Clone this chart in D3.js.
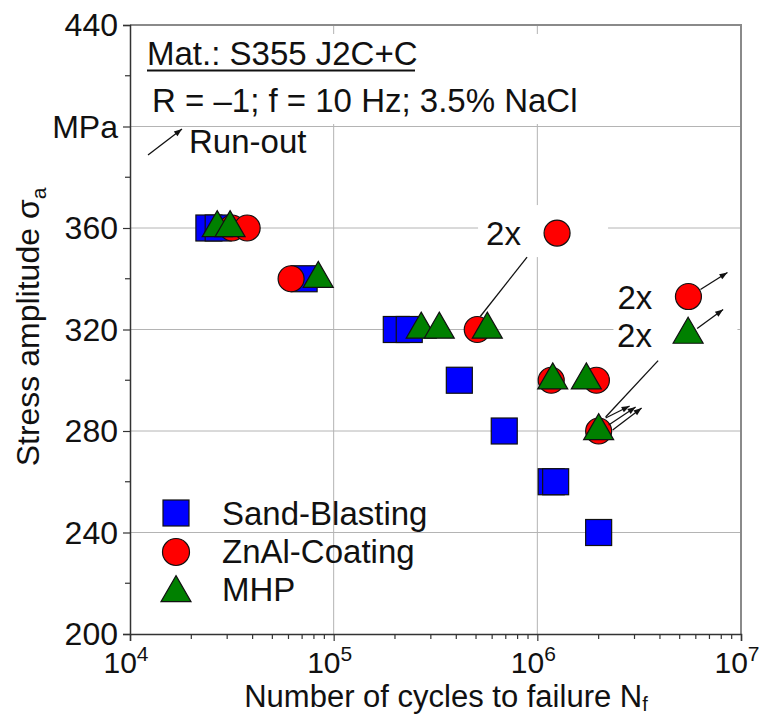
<!DOCTYPE html>
<html><head><meta charset="utf-8">
<script src="https://cdn.jsdelivr.net/npm/d3@7/dist/d3.min.js"></script>
<style>body{margin:0;background:#fff}svg{display:block;font-family:"Liberation Sans",Arial,sans-serif}</style>
</head><body><svg id="c" width="766" height="716"></svg>
<script>
// ---- data ----
const sandN = [2.44e4, 2.71e4, 7.16e4, 2.03e5, 2.35e5, 4.14e5, 6.88e5, 1.17e6, 1.23e6, 2.0e6];
const sandS = [360, 360, 340, 320, 320, 300, 280, 260, 260, 240];
const znalN = [3.17e4, 3.76e4, 6.18e4, 5.07e5, 1.25e6, 1.17e6, 1.95e6, 2.0e6, 5.52e6];
const znalS = [360, 360, 340, 320, 358, 300, 300, 280, 333];
const mhpN = [2.68e4, 3.10e4, 8.4e4, 2.69e5, 3.30e5, 5.68e5, 1.19e6, 1.74e6, 2.0e6, 5.5e6];
const mhpS = [360, 360, 340, 320, 320, 320, 300, 300, 280, 318];
const yTicks = [200, 240, 280, 320, 360, 400, 440];
const yTickLabels = ["200", "240", "280", "320", "360", "MPa", "440"];
const xDecades = [1e4, 1e5, 1e6, 1e7];
const seriesNames = ["Sand-Blasting", "ZnAl-Coating", "MHP"];
// run-out arrows: anchor point (N,S)
const runOuts = [
  {n: 2.0e6, s: 280}, {n: 2.0e6, s: 280}, {n: 2.0e6, s: 280},
  {n: 5.52e6, s: 333}, {n: 5.5e6, s: 318}
];
// "2x" labels attached to points
const twoX = [{n: 1.25e6, s: 358}, {n: 5.52e6, s: 333}, {n: 5.5e6, s: 318}];

const svg = d3.select("#c");
const x = d3.scaleLog().domain([1e4, 1e7]).range([130, 741]);
const y = d3.scaleLinear().domain([200, 440]).range([634, 25]);

// grid
const g = svg.append("g");
g.selectAll(".gx").data([1e5, 1e6]).join("line")
  .attr("x1", d => x(d)).attr("x2", d => x(d)).attr("y1", y(440)).attr("y2", y(200))
  .attr("stroke", "#b4b4b4").attr("stroke-width", 1);
g.selectAll(".gy").data([240, 280, 320, 360, 400]).join("line")
  .attr("x1", x(1e4)).attr("x2", x(1e7)).attr("y1", d => y(d)).attr("y2", d => y(d))
  .attr("stroke", "#b4b4b4").attr("stroke-width", 1);
// top/right border
svg.append("path").attr("d", `M${x(1e4)},${y(440)}H${x(1e7)}V${y(200)}`)
  .attr("fill", "none").attr("stroke", "#8a8a8a").attr("stroke-width", 2);

// white boxes behind annotation texts
const wb = svg.append("g").attr("fill", "#fff");
wb.append("rect").attr("x", 140).attr("y", 34).attr("width", 440).attr("height", 90);
wb.append("rect").attr("x", x(twoX[0].n) - 79).attr("y", y(twoX[0].s) - 28).attr("width", 130).attr("height", 52);
wb.append("rect").attr("x", x(twoX[1].n) - 75).attr("y", y(twoX[1].s) - 32).attr("width", 124).attr("height", 85);

// axes
const xAxis = d3.axisBottom(x).tickValues(xDecades).tickSize(7).tickFormat("");
const xMinor = [];
[1e4, 1e5, 1e6].forEach(d => { for (let k = 2; k <= 9; k++) xMinor.push(d * k); });
const ax = svg.append("g").attr("transform", `translate(0,${y(200)})`).call(xAxis);
ax.append("g").selectAll("line").data(xMinor).join("line")
  .attr("x1", d => x(d)).attr("x2", d => x(d)).attr("y1", 0).attr("y2", 5);
ax.selectAll("line").attr("stroke", "#333").attr("stroke-width", 1.2);
ax.select(".domain").attr("stroke", "#333").attr("stroke-width", 1.5);
const yAxis = d3.axisLeft(y).tickValues(yTicks).tickSize(7).tickFormat("");
const ay = svg.append("g").attr("transform", `translate(${x(1e4)},0)`).call(yAxis);
ay.append("g").selectAll("line").data([220, 260, 300, 340, 380, 420]).join("line")
  .attr("x1", -5).attr("x2", 0).attr("y1", d => y(d)).attr("y2", d => y(d));
ay.selectAll("line").attr("stroke", "#333").attr("stroke-width", 1.2);
ay.select(".domain").attr("stroke", "#333").attr("stroke-width", 1.5);

// tick labels
svg.append("g").selectAll("text").data(yTicks).join("text")
  .attr("x", 118).attr("y", d => y(d) + 11).attr("text-anchor", "end")
  .attr("font-size", 32).attr("fill", "#111").text((d, i) => yTickLabels[i]);
const xl = svg.append("g").selectAll("text").data(xDecades).join("text")
  .attr("x", d => x(d) - 4).attr("y", 673).attr("text-anchor", "middle")
  .attr("font-size", 30).attr("fill", "#111");
xl.append("tspan").text("10");
xl.append("tspan").attr("dy", -12).attr("font-size", 21).text(d => Math.round(Math.log10(d)));

// axis titles
const yt = svg.append("text").attr("transform", `translate(39,327) rotate(-90)`)
  .attr("text-anchor", "middle").attr("font-size", 32).attr("fill", "#111");
yt.append("tspan").text("Stress amplitude σ");
yt.append("tspan").attr("dy", 7).attr("font-size", 21).text("a");
const xt = svg.append("text").attr("x", 446).attr("y", 707).attr("text-anchor", "middle")
  .attr("font-size", 31).attr("fill", "#111");
xt.append("tspan").text("Number of cycles to failure N");
xt.append("tspan").attr("dy", 4).attr("font-size", 20).text("f");

// annotation texts
svg.append("text").attr("x", 147).attr("y", 65).attr("font-size", 33).attr("fill", "#111")
  .text("Mat.: S355 J2C+C");
svg.append("line").attr("x1", 147).attr("x2", 415).attr("y1", 70.5).attr("y2", 70.5)
  .attr("stroke", "#111").attr("stroke-width", 2);
svg.append("text").attr("x", 152).attr("y", 112).attr("font-size", 33).attr("fill", "#111")
  .text("R = \u20131; f = 10 Hz; 3.5% NaCl");
svg.append("text").attr("x", 189).attr("y", 153).attr("font-size", 33).attr("fill", "#111")
  .text("Run-out");

function arrow(x1, y1, x2, y2, head) {
  svg.append("line").attr("x1", x1).attr("y1", y1).attr("x2", x2).attr("y2", y2)
    .attr("stroke", "#111").attr("stroke-width", 1.3);
  if (head) {
    const a = Math.atan2(y2 - y1, x2 - x1), L = 8, W = 3;
    const bx = x2 - L * Math.cos(a), by = y2 - L * Math.sin(a);
    const px = -Math.sin(a) * W, py = Math.cos(a) * W;
    svg.append("path").attr("d", `M${x2},${y2}L${bx + px},${by + py}L${bx - px},${by - py}Z`).attr("fill", "#111");
  }
}
arrow(148, 155, 182, 129, true);

// markers
const triPath = (w, h) => `M0,${-2 * h / 3}L${w / 2},${h / 3}L${-w / 2},${h / 3}Z`;
const mk = svg.append("g").attr("stroke", "#111").attr("stroke-width", 1.2);
mk.selectAll(".sq").data(sandN.map((n, i) => [n, sandS[i]])).join("rect")
  .attr("x", d => x(d[0]) - 13).attr("y", d => y(d[1]) - 13).attr("width", 26).attr("height", 26).attr("fill", "#0000ff");
mk.selectAll(".ci").data(znalN.map((n, i) => [n, znalS[i]])).join("circle")
  .attr("cx", d => x(d[0])).attr("cy", d => y(d[1])).attr("r", 13).attr("fill", "#ff0000");
mk.selectAll(".tr").data(mhpN.map((n, i) => [n, mhpS[i]])).join("path")
  .attr("transform", d => `translate(${x(d[0])},${y(d[1])})`).attr("d", triPath(30, 26)).attr("fill", "#008000");

// run-out arrows
const roOff = [[7, -13, 31, -25], [10, -6, 37, -24], [14, -1, 43, -23], [12, -7, 39, -24], [9, -6, 35, -25]];
runOuts.forEach((r, i) => {
  const px = x(r.n), py = y(r.s), o = roOff[i];
  arrow(px + o[0], py + o[1], px + o[2], py + o[3], true);
});
// pointer lines from "2x" labels
arrow(x(twoX[0].n) - 30, y(twoX[0].s) + 24, x(znalN[3]) + 3, y(znalS[3]) - 13, false);
arrow(x(twoX[2].n) - 30, y(twoX[2].s) + 26, x(mhpN[8]) + 7, y(mhpS[8]) - 14, false);

// "2x" labels
svg.append("g").selectAll("text").data(twoX).join("text")
  .attr("x", d => x(d.n) - 71).attr("y", d => y(d.s) + 12)
  .attr("font-size", 33).attr("fill", "#111").text("2x");

// legend
const lg = svg.append("g");
lg.append("rect").attr("x", 163).attr("y", 500).attr("width", 26).attr("height", 26)
  .attr("fill", "#0000ff").attr("stroke", "#111").attr("stroke-width", 1.2);
lg.append("circle").attr("cx", 176).attr("cy", 552).attr("r", 13.5)
  .attr("fill", "#ff0000").attr("stroke", "#111").attr("stroke-width", 1.2);
lg.append("path").attr("transform", "translate(176,593)").attr("d", triPath(30, 26))
  .attr("fill", "#008000").attr("stroke", "#111").attr("stroke-width", 1.2);
lg.selectAll("text").data(seriesNames).join("text")
  .attr("x", 222).attr("y", (d, i) => 525 + i * 38).attr("font-size", 33).attr("fill", "#111").text(d => d);
</script></body></html>
